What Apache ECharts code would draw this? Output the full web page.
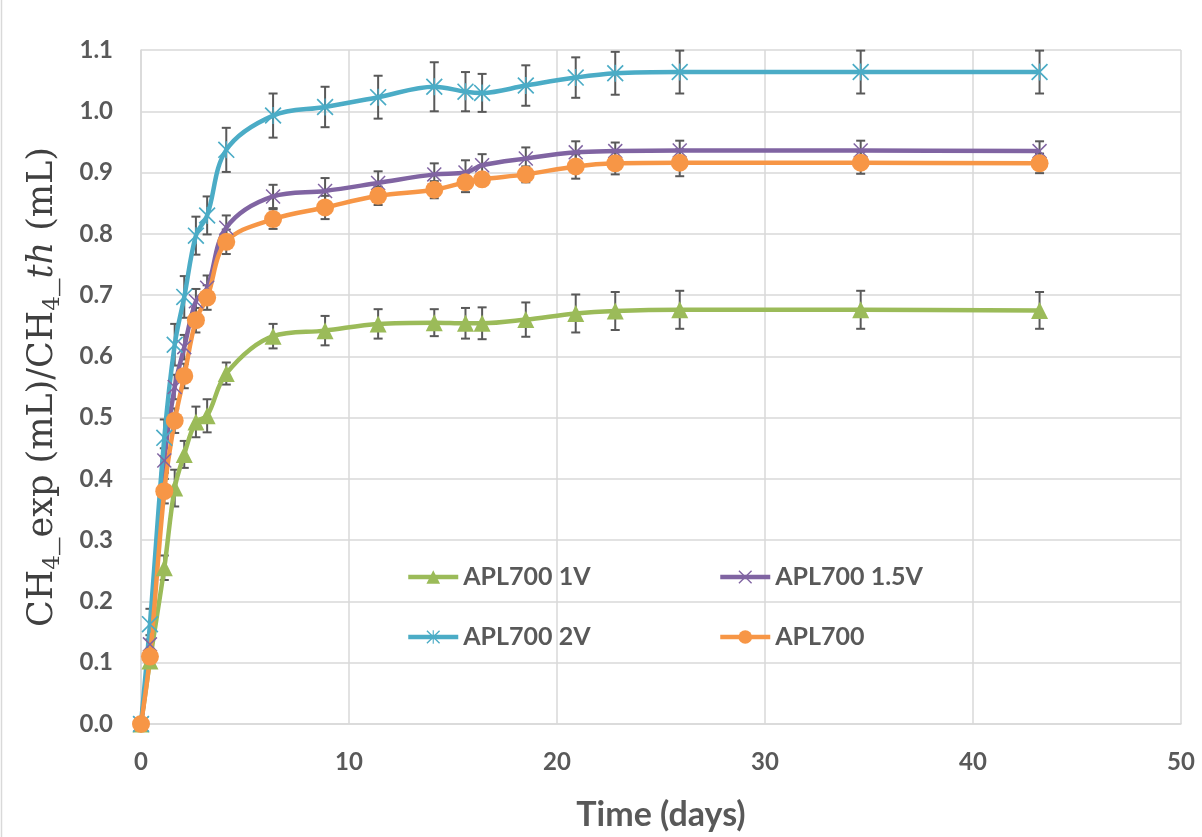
<!DOCTYPE html>
<html>
<head>
<meta charset="utf-8">
<script src="https://cdn.jsdelivr.net/npm/echarts@6/dist/echarts.min.js"></script>
<style>
html,body{margin:0;padding:0;background:#fff;}
#chart{width:1202px;height:837px;}
</style>
</head>
<body>
<div id="chart"></div>
<script>
// ---- data ----
const seriesNames = ['APL700 1V', 'APL700 1.5V', 'APL700 2V', 'APL700'];
const times = [0, 0.43, 1.12, 1.62, 2.08, 2.64, 3.18, 4.1, 6.35, 8.85, 11.4, 14.1, 15.6, 16.4, 18.5, 20.9, 22.8, 25.9, 34.6, 43.2];

const v1V  = [0, 0.103, 0.255, 0.385, 0.44, 0.493, 0.503, 0.572, 0.633, 0.642, 0.653, 0.655, 0.654, 0.654, 0.660, 0.670, 0.674, 0.676, 0.676, 0.675];
const v15V = [0, 0.13, 0.43, 0.55, 0.615, 0.69, 0.712, 0.81, 0.861, 0.870, 0.883, 0.897, 0.900, 0.912, 0.923, 0.933, 0.935, 0.936, 0.936, 0.935];
const v2V  = [0, 0.163, 0.467, 0.619, 0.697, 0.797, 0.830, 0.937, 0.993, 1.007, 1.023, 1.040, 1.032, 1.030, 1.042, 1.055, 1.062, 1.064, 1.064, 1.064];
const vAPL = [0, 0.11, 0.38, 0.495, 0.568, 0.659, 0.696, 0.787, 0.824, 0.843, 0.862, 0.872, 0.884, 0.889, 0.897, 0.910, 0.915, 0.916, 0.916, 0.915];

const e1V  = [0, 0.01, 0.02, 0.03, 0.022, 0.025, 0.027, 0.018, 0.02, 0.024, 0.024, 0.022, 0.025, 0.026, 0.028, 0.031, 0.031, 0.031, 0.031, 0.03];
const e15V = [0, 0.015, 0.02, 0.02, 0.02, 0.02, 0.02, 0.02, 0.019, 0.021, 0.019, 0.018, 0.02, 0.018, 0.018, 0.018, 0.014, 0.016, 0.016, 0.016];
const e2V  = [0, 0.025, 0.03, 0.034, 0.034, 0.031, 0.031, 0.036, 0.036, 0.033, 0.035, 0.04, 0.032, 0.031, 0.033, 0.033, 0.035, 0.035, 0.035, 0.035];
const eAPL = [0, 0.012, 0.02, 0.02, 0.02, 0.02, 0.02, 0.02, 0.016, 0.019, 0.015, 0.014, 0.016, 0.01, 0.013, 0.02, 0.018, 0.022, 0.018, 0.016];

const xTicks = [0, 10, 20, 30, 40, 50];
const yTicks = [0, 0.1, 0.2, 0.3, 0.4, 0.5, 0.6, 0.7, 0.8, 0.9, 1.0, 1.1];

// ---- styling ----
const colors = ['#9BBB59', '#8064A2', '#4BACC6', '#F79646'];
const crossPath = 'path://M0,7 L7,0 L100,93 L93,100 Z M93,0 L100,7 L7,100 L0,93 Z';
const starPath = 'path://M0,7 L7,0 L100,93 L93,100 Z M93,0 L100,7 L7,100 L0,93 Z M46,0 L54,0 L54,100 L46,100 Z';
const symbols = ['triangle', crossPath, starPath, 'circle'];
const symbolSizes = [17, 15, 17, 18];
const values = [v1V, v15V, v2V, vAPL];
const errors = [e1V, e15V, e2V, eAPL];

const series = [];
values.forEach((vals, k) => {
  series.push({
    type: 'custom',
    name: seriesNames[k] + ' err',
    z: 2,
    silent: true,
    encode: { x: 0, y: [1, 2] },
    data: times.map((t, i) => [t, vals[i] - errors[k][i], vals[i] + errors[k][i]]),
    renderItem: function (params, api) {
      const lo = api.coord([api.value(0), api.value(1)]);
      const hi = api.coord([api.value(0), api.value(2)]);
      const hw = 4.5;
      const st = { stroke: '#595959', lineWidth: 2 };
      return {
        type: 'group',
        children: [
          { type: 'line', shape: { x1: lo[0], y1: lo[1], x2: hi[0], y2: hi[1] }, style: st },
          { type: 'line', shape: { x1: lo[0] - hw, y1: lo[1], x2: lo[0] + hw, y2: lo[1] }, style: st },
          { type: 'line', shape: { x1: hi[0] - hw, y1: hi[1], x2: hi[0] + hw, y2: hi[1] }, style: st }
        ]
      };
    }
  });
});
values.forEach((vals, k) => {
  series.push({
    type: 'line',
    name: seriesNames[k],
    z: 3,
    smooth: 0.35,
    data: times.map((t, i) => [t, vals[i]]),
    symbol: symbols[k],
    symbolSize: symbolSizes[k],
    showAllSymbol: true,
    lineStyle: { color: colors[k], width: 4.5 },
    itemStyle: { color: colors[k], borderWidth: 0 },
    emphasis: { disabled: true }
  });
});

const chart = echarts.init(document.getElementById('chart'), null, { renderer: 'canvas' });
const labelFont = 'Lato, "Open Sans", sans-serif';
const legendText = { color: '#595959', fontSize: 25, fontWeight: 'bold', fontFamily: labelFont, lineHeight: 28, padding: [0, 0, 0, 0] };
chart.setOption({
  animation: false,
  backgroundColor: '#ffffff',
  color: colors,
  grid: { left: 141, right: 21, top: 50, bottom: 110, containLabel: false },
  legend: [
    {
      data: [seriesNames[0], seriesNames[2]],
      orient: 'vertical', left: 401, top: 558, itemGap: 32, itemWidth: 50, itemHeight: 17,
      lineStyle: { width: 4.5 },
      textStyle: legendText
    },
    {
      data: [seriesNames[1], seriesNames[3]],
      orient: 'vertical', left: 713, top: 558, itemGap: 32, itemWidth: 50, itemHeight: 17,
      lineStyle: { width: 4.5 },
      textStyle: legendText
    }
  ],
  xAxis: {
    type: 'value', min: xTicks[0], max: xTicks[xTicks.length - 1], interval: 10,
    name: 'Time (days)', nameLocation: 'middle', nameGap: 74,
    nameTextStyle: { color: '#595959', fontSize: 34, fontWeight: 'bold', fontFamily: labelFont },
    axisLine: { show: true, lineStyle: { color: '#d9d9d9', width: 1.5 } },
    axisTick: { show: false },
    splitLine: { show: true, lineStyle: { color: '#d9d9d9', width: 1.5 } },
    axisLabel: { color: '#595959', fontSize: 24, fontWeight: 'bold', fontFamily: labelFont, margin: 26 }
  },
  yAxis: {
    type: 'value', min: yTicks[0], max: yTicks[yTicks.length - 1], interval: 0.1,
    name: '{r|CH}{s|4}{r|_exp (mL)/CH}{s|4}{r|_}{i|th}{r| (mL)}',
    nameLocation: 'middle', nameRotate: 90, nameGap: 76,
    nameTextStyle: {
      color: '#404040',
      rich: {
        r: { fontSize: 35, fontFamily: '"DejaVu Serif", serif', color: '#404040', lineHeight: 44 },
        i: { fontSize: 35, fontFamily: '"DejaVu Serif", serif', fontStyle: 'italic', color: '#404040', lineHeight: 44 },
        s: { fontSize: 23, fontFamily: '"DejaVu Serif", serif', color: '#404040', lineHeight: 19, verticalAlign: 'bottom' }
      }
    },
    axisLine: { show: true, lineStyle: { color: '#d9d9d9', width: 1.5 } },
    axisTick: { show: false },
    splitLine: { show: true, lineStyle: { color: '#d9d9d9', width: 1.5 } },
    axisLabel: {
      color: '#595959', fontSize: 24, fontWeight: 'bold', fontFamily: labelFont, margin: 28,
      formatter: v => v.toFixed(1)
    }
  },
  graphic: [
    { type: 'line', shape: { x1: 1.5, y1: 0, x2: 1.5, y2: 837 }, style: { stroke: '#d9d9d9', lineWidth: 1.5 } }
  ],
  series: series
});
</script>
</body>
</html>
